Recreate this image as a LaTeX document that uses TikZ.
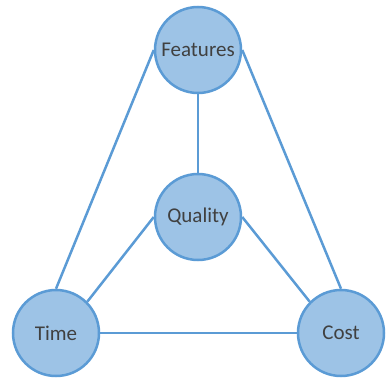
\documentclass[tikz,border=0pt]{standalone}
\usepackage{fontspec}
\setmainfont{Carlito}
\usepackage{xcolor}
\usepackage{tikz}
\definecolor{topicfill}{HTML}{9DC3E6}
\definecolor{topicline}{HTML}{5B9BD5}
\definecolor{topictext}{HTML}{404040}
\tikzset{
  topic/.style={%
    draw=topicline,
    fill=topicfill,
    circle,
    line width=2.5pt,
    inner sep=0,
    minimum size=86pt,
    text=topictext,
    font=\fontsize{21}{25}\selectfont,
  },
  link/.style={%
    draw=topicline,
    line width=2.5pt,
  }
}

\begin{document}
\begin{tikzpicture}[x=1pt,y=-1pt]
    \useasboundingbox (0,0) rectangle (390,380);
    \node (features) [topic] at (198,50) {Features};
    \node (quality) [topic] at (198,217) {Quality};
    \node (time) [topic] at (56,333) {Time};
    \node (cost) [topic] at (341,333) {Cost};
    \draw [link] (features.west) -- (time.north);
    \draw [link] (features.east) -- (cost.north);
    \draw [link] (features.south) -- (quality.north);
    \draw [link] (quality.west) -- (time.north east);
    \draw [link] (quality.east) -- (cost.north west);
    \draw [link] (time.east) -- (cost.west);
\end{tikzpicture}
\end{document}
